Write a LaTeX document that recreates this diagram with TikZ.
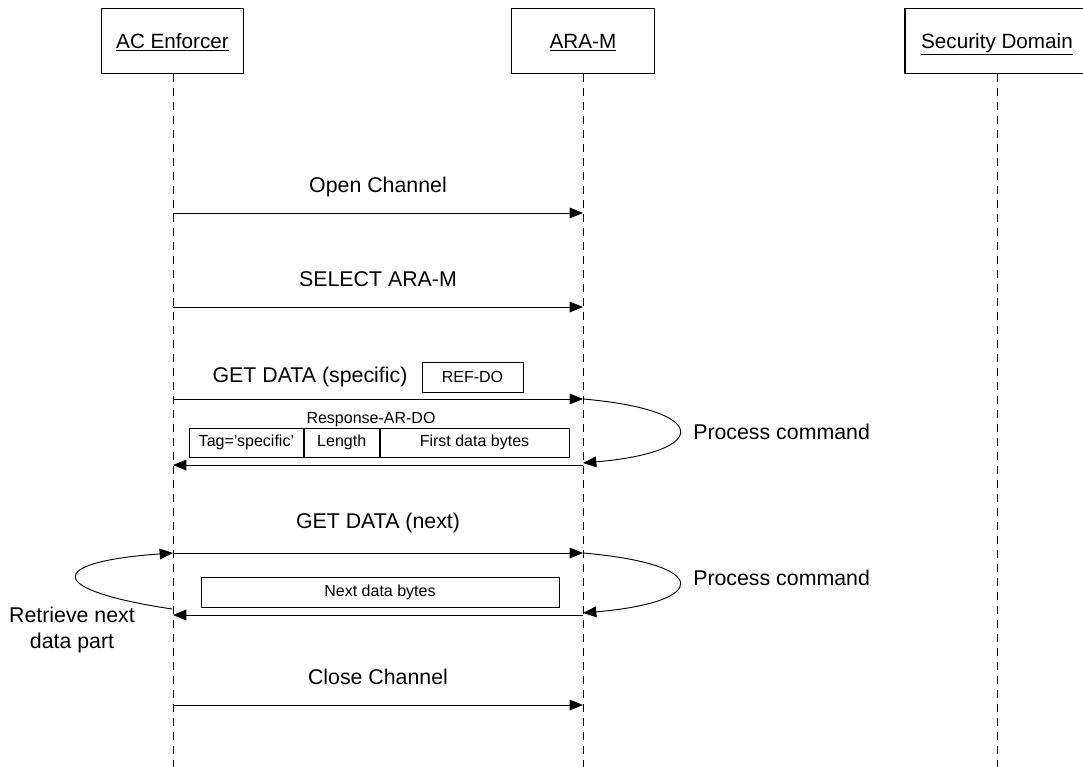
\documentclass[tikz,border=0pt]{standalone}
\usepackage{fontspec}
\setmainfont{Liberation Sans}
\usetikzlibrary{arrows.meta}
\begin{document}
\begin{tikzpicture}[x=0.75pt,y=-0.75pt,
  actor/.style={draw,line width=0.8pt,minimum width=107pt,minimum height=49pt,inner sep=0pt,text height=11pt,text depth=0pt,font=\fontsize{15.5}{18}\selectfont},
  lifeline/.style={draw,line width=0.7pt,dash pattern=on 6pt off 4.5pt},
  msg/.style={draw,line width=0.7pt,-{Triangle[length=10pt,width=8pt]}},
  loopline/.style={draw,line width=0.7pt,-{Triangle[length=10pt,width=8pt]}},
  lbl/.style={font=\fontsize{16}{19}\selectfont,inner sep=0pt},
  slbl/.style={font=\fontsize{12}{14}\selectfont,inner sep=0pt},
  field/.style={draw,line width=0.6pt,minimum height=21.75pt,inner sep=0pt,font=\fontsize{12}{14}\selectfont,anchor=west},
]
\useasboundingbox (0,0) rectangle (1083,767);

% actors
\node[actor] (ac) at (172.5,41) {\underline{AC Enforcer}};
\node[actor] (aram) at (583,41) {\underline{ARA-M}};
\node[actor,minimum width=138pt] (sd) at (997,41) {\underline{Security Domain}};

% lifeline ends
\coordinate (acE) at (173,767);
\coordinate (aramE) at (583,767);
\coordinate (sdE) at (997,767);
\draw[lifeline] (ac.south -| acE) -- (acE);
\draw[lifeline] (aram.south -| aramE) -- (aramE);
\draw[lifeline] (sd.south -| sdE) -- (sdE);

% message points
\coordinate (a1) at (173,213); \coordinate (b1) at (583,213);
\coordinate (a2) at (173,307); \coordinate (b2) at (583,307);
\coordinate (a3) at (173,399); \coordinate (b3) at (583,399);
\coordinate (a4) at (173,465); \coordinate (b4) at (583,465);
\coordinate (b4e) at (583,463);
\coordinate (a5) at (173,553); \coordinate (b5) at (583,553);
\coordinate (a6) at (173,615); \coordinate (b6) at (583,615);
\coordinate (b6e) at (583,613);
\coordinate (a6s) at (172,609);
\coordinate (a7) at (173,705); \coordinate (b7) at (583,705);

% messages
\draw[msg] (a1) -- (b1);
\node[lbl] (t1) at (378,187) {Open Channel};
\draw[msg] (a2) -- (b2);
\node[lbl] (t2) at (378,279) {SELECT ARA-M};
\draw[msg] (a3) -- (b3);
\node[lbl] (t3) at (310,377) {GET DATA (specific)};
\node[draw,line width=0.6pt,minimum width=75.75pt,minimum height=22.5pt,inner sep=0pt,font=\fontsize{12}{14}\selectfont] (ref) at (472.5,377) {REF-DO};

\node[slbl] (resp) at (371,420) {Response-AR-DO};
\node[field,minimum width=85.5pt] (tag) at (189,442.5) {Tag={\char"0027}specific{\char"0027}};
\node[field,minimum width=56.25pt] (len) at (tag.east) {Length};
\node[field,minimum width=141.75pt] (fdb) at (len.east) {First data bytes};
\draw[msg] (b4) -- (a4);

\draw[loopline] (b3) .. controls (711,410) and (711,452) .. (b4e);
\node[lbl,anchor=west] (pc1) at (693,432) {Process command};

\draw[msg] (a5) -- (b5);
\node[lbl] (t5) at (378,523) {GET DATA (next)};
\node[draw,line width=0.6pt,minimum width=268.5pt,minimum height=22.5pt,inner sep=0pt,font=\fontsize{12}{14}\selectfont] (ndb) at (380,592) {Next data bytes};
\draw[msg] (b6) -- (a6);

\draw[loopline] (b5) .. controls (711,564) and (711,602) .. (b6e);
\node[lbl,anchor=west] (pc2) at (693,578) {Process command};

\draw[loopline] (a6s) .. controls (45,590) and (45,562) .. (a5);
\node[lbl,align=center] (rn) at (72,630) {Retrieve next\\data part};

\draw[msg] (a7) -- (b7);
\node[lbl] (t7) at (378,677) {Close Channel};
\end{tikzpicture}
\end{document}
